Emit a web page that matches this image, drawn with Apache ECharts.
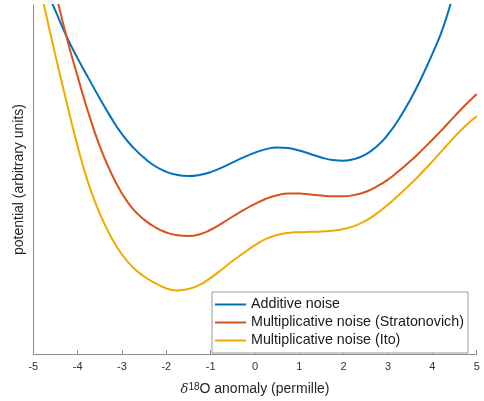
<!DOCTYPE html>
<html>
<head>
<meta charset="utf-8">
<script src="https://cdn.jsdelivr.net/npm/echarts@6/dist/echarts.min.js"></script>
<style>
  html, body { margin: 0; padding: 0; background: #fff; }
  #chart { width: 484px; height: 401px; }
</style>
</head>
<body>
<div id="chart"></div>
<script>
// delta-18O anomaly (permille), sampled every 0.25
const additiveX = [-4.75, -4.5, -4.25, -4.0, -3.75, -3.5, -3.25, -3.0, -2.75, -2.5, -2.25, -2.0, -1.75, -1.5, -1.25, -1.0, -0.75, -0.5, -0.25, 0, 0.25, 0.5, 0.75, 1.0, 1.25, 1.5, 1.75, 2.0, 2.25, 2.5, 2.75, 3.0, 3.25, 3.5, 3.75, 4.0, 4.25, 4.5];
const additiveY = [10.55, 9.83, 9.10, 8.47, 7.89, 7.32, 6.78, 6.30, 5.92, 5.62, 5.38, 5.22, 5.13, 5.10, 5.13, 5.21, 5.34, 5.49, 5.64, 5.77, 5.87, 5.92, 5.90, 5.83, 5.73, 5.63, 5.56, 5.54, 5.59, 5.72, 5.95, 6.29, 6.74, 7.28, 7.90, 8.60, 9.38, 10.45];

const stratX = [-4.5, -4.25, -4.0, -3.75, -3.5, -3.25, -3.0, -2.75, -2.5, -2.25, -2.0, -1.75, -1.5, -1.25, -1.0, -0.75, -0.5, -0.25, 0, 0.25, 0.5, 0.75, 1.0, 1.25, 1.5, 1.75, 2.0, 2.25, 2.5, 2.75, 3.0, 3.25, 3.5, 3.75, 4.0, 4.25, 4.5, 4.75, 5.0];
const stratY = [10.39, 9.08, 7.95, 6.88, 5.95, 5.20, 4.60, 4.15, 3.85, 3.63, 3.48, 3.40, 3.38, 3.43, 3.56, 3.74, 3.94, 4.13, 4.30, 4.45, 4.55, 4.60, 4.60, 4.57, 4.54, 4.52, 4.52, 4.56, 4.65, 4.80, 5.00, 5.25, 5.52, 5.82, 6.14, 6.47, 6.81, 7.14, 7.45];

const itoX = [-5.0, -4.75, -4.5, -4.25, -4.0, -3.75, -3.5, -3.25, -3.0, -2.75, -2.5, -2.25, -2.0, -1.75, -1.5, -1.25, -1.0, -0.75, -0.5, -0.25, 0, 0.25, 0.5, 0.75, 1.0, 1.25, 1.5, 1.75, 2.0, 2.25, 2.5, 2.75, 3.0, 3.25, 3.5, 3.75, 4.0, 4.25, 4.5, 4.75, 5.0];
const itoY = [11.40, 9.95, 8.55, 7.22, 5.95, 4.86, 4.02, 3.36, 2.85, 2.48, 2.22, 2.03, 1.88, 1.82, 1.86, 1.98, 2.18, 2.42, 2.67, 2.90, 3.12, 3.30, 3.41, 3.47, 3.49, 3.50, 3.51, 3.53, 3.58, 3.67, 3.82, 4.03, 4.28, 4.56, 4.86, 5.18, 5.52, 5.87, 6.22, 6.54, 6.81];

const seriesNames = ['Additive noise', 'Multiplicative noise (Stratonovich)', 'Multiplicative noise (Ito)'];
const seriesColors = ['#0072BD', '#D95319', '#F2A900'];
const xTicks = [-5, 5, 1];

const pairs = (xs, ys) => xs.map((x, i) => [x, ys[i]]);
const font = '"Liberation Sans", Arial, Helvetica, sans-serif';

const chart = echarts.init(document.getElementById('chart'), null, { renderer: 'canvas' });

const makeSeries = (name, data, color) => ({
  name,
  type: 'line',
  data,
  smooth: 0.5,
  showSymbol: false,
  symbol: 'none',
  clip: true,
  lineStyle: { color, width: 2 },
  itemStyle: { color },
  z: 2
});

chart.setOption({
  backgroundColor: '#ffffff',
  animation: false,
  textStyle: { fontFamily: font },
  grid: { left: 33.3, right: 7.3, top: 5, bottom: 45.3, containLabel: false },
  xAxis: {
    type: 'value',
    min: xTicks[0],
    max: xTicks[1],
    interval: xTicks[2],
    name: '{d|δ}{s|18}{t|O anomaly (permille)}',
    nameLocation: 'middle',
    nameGap: 28,
    nameTextStyle: {
      rich: {
        d: { fontFamily: 'DejaVu Serif, serif', fontStyle: 'italic', fontSize: 13, color: '#262626', verticalAlign: 'bottom' },
        s: { fontFamily: font, fontSize: 10, color: '#262626', verticalAlign: 'top' },
        t: { fontFamily: font, fontSize: 14, color: '#262626', verticalAlign: 'bottom' }
      }
    },
    axisLine: { show: true, onZero: false, lineStyle: { color: '#8c8c8c', width: 1 } },
    axisTick: { show: true, inside: true, length: 4, lineStyle: { color: '#8c8c8c' } },
    axisLabel: { fontSize: 11, color: '#333333', margin: 7, fontFamily: font },
    splitLine: { show: false }
  },
  yAxis: {
    type: 'value',
    min: 0,
    max: 10,
    name: 'potential (arbitrary units)',
    nameLocation: 'middle',
    nameGap: 7,
    nameTextStyle: { fontSize: 14, color: '#262626', fontFamily: font },
    axisLine: { show: true, onZero: false, lineStyle: { color: '#8c8c8c', width: 1 } },
    axisTick: { show: false },
    axisLabel: { show: false },
    splitLine: { show: false }
  },
  legend: {
    orient: 'vertical',
    left: 212,
    top: 292,
    data: seriesNames,
    icon: 'rect',
    itemWidth: 31,
    itemHeight: 2,
    itemGap: 3,
    padding: [5, 4, 5, 3],
    borderColor: '#9a9a9a',
    borderWidth: 1,
    backgroundColor: '#ffffff',
    textStyle: { fontSize: 14.3, color: '#1a1a1a', lineHeight: 15, fontFamily: font }
  },
  series: [
    makeSeries(seriesNames[0], pairs(additiveX, additiveY), seriesColors[0]),
    makeSeries(seriesNames[1], pairs(stratX, stratY), seriesColors[1]),
    makeSeries(seriesNames[2], pairs(itoX, itoY), seriesColors[2])
  ]
});
</script>
</body>
</html>
